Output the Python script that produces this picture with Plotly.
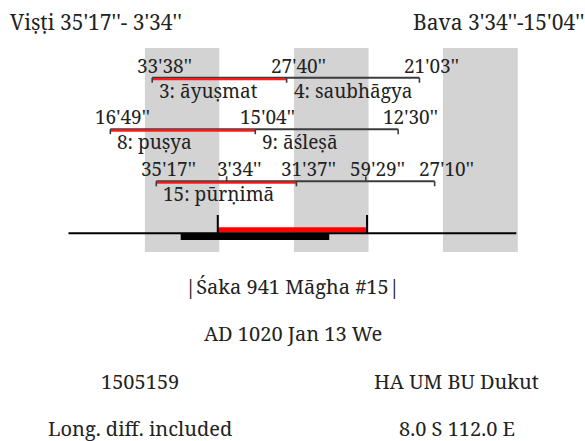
import plotly.graph_objects as go

# ---------------- data (times as ghaṭikā'pala'' after sunrise of the given day) -------------
yoga_times = ["33'38''", "27'40''", "21'03''"]
yoga_days = [0, 1, 2]
yoga_names = ["3: āyuṣmat", "4: saubhāgya"]

naksatra_times = ["16'49''", "15'04''", "12'30''"]
naksatra_days = [0, 1, 2]
naksatra_names = ["8: puṣya", "9: āśleṣā"]

tithi_times = ["35'17''", "31'37''", "27'10''"]
tithi_days = [0, 1, 2]
tithi_names = ["15: pūrṇimā", ""]

karana_times = ["3'34''", "59'29''"]
karana_days = [1, 1]

# night (grey) intervals in ghaṭikās from first sunrise
night_start = [30.7, 90.6, 150.5]
night_end = [60.6, 120.6, 180.6]

axis_start, axis_end = 0, 180          # three days of 60 ghaṭikās
day_start, day_end = 60, 120           # the civil day (red)
civil_start, civil_end = 45.1, 104.8   # black bar

title_left = "Viṣṭi 35'17''- 3'34''"
title_right = "Bava 3'34''-15'04''"
info_center = ["|Śaka 941 Māgha #15|", "AD 1020 Jan 13 We"]
info_left = ["1505159", "Long. diff. included"]
info_right = ["HA UM BU Dukut", "8.0 S 112.0 E"]


def gh(s, day):
    m, rest = s.split("'", 1)
    p = rest.strip("'")
    return day * 60 + int(m) + int(p) / 60.0


# ---------------- layout helpers -------------
W, H = 585, 441
PX0, PXG = 68.5, 2.488          # pixel of 0 gh, pixels per gh
FONT = "Noto Serif, DejaVu Serif, Liberation Serif, serif"
TXT = "#222222"
LBL = 19

fig = go.Figure()
shapes = []
ann = []

# grey night bands
for a, b in zip(night_start, night_end):
    shapes.append(dict(type="rect", xref="x", yref="y", x0=a, x1=b, y0=48, y1=252,
                       fillcolor="#d3d3d3", line_width=0, layer="below"))


def row(times, days, names, y, karana=None):
    xs = [gh(t, d) for t, d in zip(times, days)]
    shapes.append(dict(type="line", xref="x", yref="y", x0=xs[0], x1=xs[-1], y0=y, y1=y,
                       line=dict(color="#3c3c3c", width=2)))
    shapes.append(dict(type="line", xref="x", yref="y", x0=xs[0], x1=xs[1], y0=y + 1.3, y1=y + 1.3,
                       line=dict(color="#ff1a1a", width=2.4)))
    for x in xs:
        shapes.append(dict(type="line", xref="x", yref="y", x0=x, x1=x, y0=y, y1=y + 5,
                           line=dict(color="#3c3c3c", width=1.6)))
    for t, x in zip(times, xs):
        ann.append(dict(x=x, y=y - 12, xref="x", yref="y", text=t, showarrow=False,
                        xanchor="center", yanchor="middle", xshift=12,
                        font=dict(family=FONT, size=LBL, color=TXT)))
    for n, x in zip(names, xs[:-1]):
        if n:
            ann.append(dict(x=x, y=y + 13, xref="x", yref="y", text=n, showarrow=False,
                            xanchor="left", yanchor="middle", xshift=5,
                            font=dict(family=FONT, size=LBL, color=TXT)))
    if karana:
        kt, kd = karana
        for t, d in zip(kt, kd):
            x = gh(t, d)
            shapes.append(dict(type="line", xref="x", yref="y", x0=x, x1=x, y0=y, y1=y - 5,
                               line=dict(color="#3c3c3c", width=1.6)))
            ann.append(dict(x=x, y=y - 12, xref="x", yref="y", text=t, showarrow=False,
                            xanchor="center", yanchor="middle", xshift=12,
                            font=dict(family=FONT, size=LBL, color=TXT)))


row(yoga_times, yoga_days, yoga_names, 77.8)
row(naksatra_times, naksatra_days, naksatra_names, 129.2)
row(tithi_times, tithi_days, tithi_names, 181.3, karana=(karana_times, karana_days))

# main time axis
YM = 233.3
shapes.append(dict(type="rect", xref="x", yref="y", x0=civil_start, x1=civil_end, y0=233, y1=240,
                   fillcolor="black", line_width=0))
shapes.append(dict(type="rect", xref="x", yref="y", x0=day_start, x1=day_end, y0=227.3, y1=232.6,
                   fillcolor="#ff0000", line_width=0))
shapes.append(dict(type="line", xref="x", yref="y", x0=axis_start, x1=axis_end, y0=YM, y1=YM,
                   line=dict(color="black", width=2)))
for x in (day_start, day_end):
    shapes.append(dict(type="line", xref="x", yref="y", x0=x, x1=x, y0=215, y1=YM,
                       line=dict(color="black", width=2)))

# titles
ann.append(dict(x=0, y=21.7, xref="paper", yref="y", text=title_left, showarrow=False,
                xanchor="left", yanchor="middle", xshift=8,
                font=dict(family=FONT, size=21, color=TXT)))
ann.append(dict(x=1, y=21.7, xref="paper", yref="y", text=title_right, showarrow=False,
                xanchor="right", yanchor="middle", xshift=1,
                font=dict(family=FONT, size=21, color=TXT)))

# info lines
for t, y in zip(info_center, [286.7, 333.5]):
    ann.append(dict(x=292.5 / W, y=y, xref="paper", yref="y", text=t, showarrow=False,
                    xanchor="center", yanchor="middle",
                    font=dict(family=FONT, size=20, color=TXT)))
for t, y in zip(info_left, [381.2, 428.5]):
    ann.append(dict(x=139.7 / W, y=y, xref="paper", yref="y", text=t, showarrow=False,
                    xanchor="center", yanchor="middle",
                    font=dict(family=FONT, size=20, color=TXT)))
for t, y in zip(info_right, [381.2, 428.5]):
    ann.append(dict(x=456.5 / W, y=y, xref="paper", yref="y", text=t, showarrow=False,
                    xanchor="center", yanchor="middle",
                    font=dict(family=FONT, size=20, color=TXT)))

fig.update_layout(
    width=W, height=H,
    margin=dict(l=0, r=0, t=0, b=0),
    paper_bgcolor="white", plot_bgcolor="white",
    xaxis=dict(range=[(0 - PX0) / PXG, (W - PX0) / PXG], visible=False, fixedrange=True),
    yaxis=dict(range=[H, 0], visible=False, fixedrange=True),
    shapes=shapes, annotations=ann, showlegend=False,
)

fig.write_html("out.html", config={"displayModeBar": False},
               post_script="document.body.style.margin='0';document.body.style.overflow='hidden';")
